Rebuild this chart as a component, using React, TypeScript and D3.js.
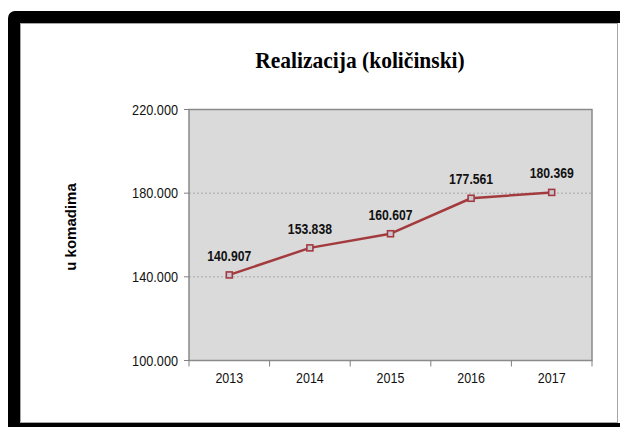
import React from "react";
import * as d3 from "d3";

const categories = ["2013", "2014", "2015", "2016", "2017"];
const values = [140907, 153838, 160607, 177561, 180369];
const yTicks = [100000, 140000, 180000, 220000];
const gridTicks = [140000, 180000];

const W = 620;
const H = 427;
const plot = { left: 189, right: 592, top: 109.5, bottom: 360.5 };

const fmtDots = (v: number) => {
  const k = Math.floor(v / 1000);
  const r = v % 1000;
  return `${k}.${String(r).padStart(3, "0")}`;
};

function T(props: {
  x: number;
  y: number;
  sy?: number;
  sx?: number;
  rot?: number;
  children: React.ReactNode;
  [k: string]: any;
}) {
  const { x, y, sy = 1, sx = 1, rot = 0, children, ...rest } = props;
  return (
    <text transform={`translate(${x},${y}) rotate(${rot}) scale(${sx},${sy})`} {...rest}>
      {children}
    </text>
  );
}

export default function App() {
  const x = d3.scaleBand().domain(categories).range([plot.left, plot.right]).padding(0);
  const y = d3.scaleLinear().domain([100000, 220000]).range([plot.bottom, plot.top]);
  const cx = (c: string) => (x(c) as number) + x.bandwidth() / 2;
  const line = d3
    .line<number>()
    .x((_, i) => cx(categories[i]))
    .y((d) => y(d));
  const boundaries = categories.map((c) => x(c) as number).concat([plot.right]);
  const lineColor = "#a33b3e";

  return (
    <svg
      width={W}
      height={H}
      style={{ position: "absolute", left: 0, top: 0, background: "#fff" }}
      fontFamily="Arial, 'Liberation Sans', sans-serif"
    >
      <rect x={0} y={0} width={W} height={H} fill="#fff" />
      <rect x={8} y={11} width={W + 20} height={H + 20} rx={7} ry={7} fill="#000" />
      <rect x={20} y={23} width={W - 20} height={400} fill="#fff" />
      <rect x={20.5} y={23.5} width={597} height={399} fill="none" stroke="#a6a6a6" strokeWidth={1} />

      <T
        x={360}
        y={68}
        sy={1.12}
        textAnchor="middle"
        fontFamily="'Liberation Serif', 'Times New Roman', serif"
        fontWeight="bold"
        fontSize={21.5}
        fill="#000"
      >
        Realizacija (količinski)
      </T>

      <T x={76} y={227} rot={-90} textAnchor="middle" fontWeight="bold" fontSize={15} fill="#000">
        u komadima
      </T>

      <rect
        x={plot.left}
        y={plot.top}
        width={plot.right - plot.left}
        height={plot.bottom - plot.top}
        fill="#dadada"
      />
      {gridTicks.map((t) => (
        <line
          key={t}
          x1={plot.left}
          x2={plot.right}
          y1={y(t)}
          y2={y(t)}
          stroke="#a8a8a8"
          strokeWidth={1}
          strokeDasharray="2,2"
        />
      ))}
      <rect
        x={plot.left}
        y={plot.top}
        width={plot.right - plot.left}
        height={plot.bottom - plot.top}
        fill="none"
        stroke="#8a8a8a"
        strokeWidth={1.5}
      />

      {yTicks.map((t) => (
        <g key={t}>
          <line x1={plot.left - 5} x2={plot.left} y1={y(t)} y2={y(t)} stroke="#808080" strokeWidth={1} />
          <T x={178} y={y(t) + 5} sy={1.1} textAnchor="end" fontSize={12.7} fill="#111">
            {fmtDots(t)}
          </T>
        </g>
      ))}

      {boundaries.map((b, i) => (
        <line key={i} x1={b} x2={b} y1={plot.bottom} y2={plot.bottom + 6} stroke="#808080" strokeWidth={1} />
      ))}
      {categories.map((c) => (
        <T key={c} x={cx(c)} y={383} sy={1.1} textAnchor="middle" fontSize={12.5} fill="#111">
          {c}
        </T>
      ))}

      <path d={line(values) || ""} fill="none" stroke={lineColor} strokeWidth={2.5} strokeLinejoin="round" />
      {values.map((v, i) => (
        <rect
          key={i}
          x={cx(categories[i]) - 3}
          y={y(v) - 3}
          width={6}
          height={6}
          fill="#c9c9d4"
          stroke={lineColor}
          strokeWidth={1.6}
        />
      ))}
      {values.map((v, i) => (
        <T
          key={i}
          x={cx(categories[i])}
          y={y(v) - 14}
          sy={1.2}
          textAnchor="middle"
          fontWeight="bold"
          fontSize={12.2}
          fill="#111"
        >
          {fmtDots(v)}
        </T>
      ))}
    </svg>
  );
}
